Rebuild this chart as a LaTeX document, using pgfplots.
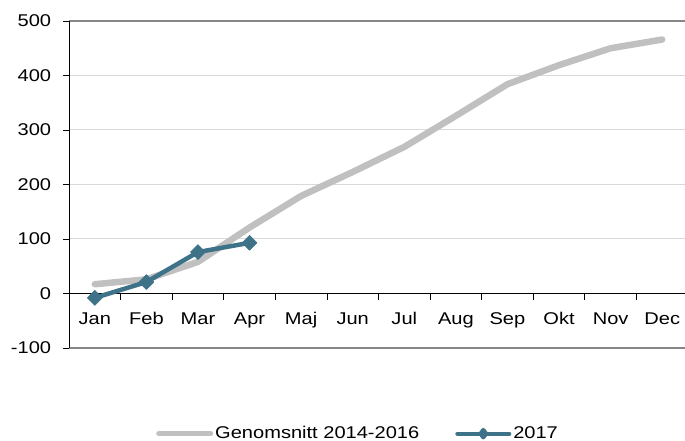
\documentclass[border=0pt]{standalone}
\usepackage{fontspec}
\setmainfont{Liberation Sans}[FakeStretch=1.18]
\usepackage{pgfplots}
\pgfplotsset{compat=1.18}
\definecolor{avg}{HTML}{C0C0C0}
\definecolor{cur}{HTML}{3D7288}
\definecolor{gridc}{HTML}{D9D9D9}
\definecolor{borderc}{HTML}{868686}
\begin{document}
\fontsize{17bp}{20bp}\selectfont
\begin{tikzpicture}[font=\fontsize{17bp}{20bp}\selectfont]
\begin{axis}[
  at={(0,0)}, anchor=south west,
  scale only axis, width=619bp, height=327bp,
  xmin=-0.5, xmax=11.5, ymin=-100, ymax=500,
  axis x line=middle, axis y line=left,
  axis line style={-, black},
  tick align=outside,
  major tick length=6bp,
  tick label style={font=\fontsize{17bp}{20bp}\selectfont},
  xtick={0.5,1.5,...,10.5},
  xticklabels={,,,,,,,,,,,},
  extra x ticks={0,1,2,3,4,5,6,7,8,9,10,11},
  extra x tick labels={Jan,Feb,Mar,Apr,Maj,Jun,Jul,Aug,Sep,Okt,Nov,Dec},
  extra x tick style={major tick length=0pt, xticklabel style={yshift=-13bp}},
  ytick={-100,0,100,200,300,400,500},
  yticklabels={-100,0,100,200,300,400,500},
  yticklabel style={xshift=-6bp},
  ymajorgrids, grid style={gridc, line width=1bp},
  tick style={black, line width=0.8bp},
  clip=false,
  legend columns=2,
  legend cell align=left,
  legend style={draw=none, fill=none, at={(0.467,-0.262)}, anchor=center,
    /tikz/every even column/.append style={column sep=34bp},
    font=\fontsize{17bp}{20bp}\selectfont},
]
\addplot[avg, line width=6.5bp, line cap=round, line join=round,
  legend image code/.code={\draw[avg, line width=5bp, line cap=round] (0bp,0bp) -- (52bp,0bp);}]
  coordinates {(0,17)(1,26)(2,58)(3,121)(4,179)(5,223)(6,269)(7,326)(8,384)(9,419)(10,450)(11,466)};
\addlegendentry{Genomsnitt 2014-2016}
\addplot[cur, line width=4.5bp, line join=round, mark=square*,
  mark options={rotate=45, line width=0.5bp, fill=cur, draw=cur, scale=1},
  mark size=5.3bp,
  legend image code/.code={\draw[cur, line width=4bp, line cap=round] (0bp,0bp) -- (52bp,0bp);
     \fill[cur] (26bp,-3.5bp) -- (28.5bp,0bp) -- (26bp,3.5bp) -- (23.5bp,0bp) -- cycle;}]
  coordinates {(0,-8)(1,21)(2,76)(3,93)};
\addlegendentry{2017}
\draw[borderc, line width=1.5bp] (rel axis cs:0,1) -- (rel axis cs:1,1);
\draw[borderc, line width=1.5bp] (rel axis cs:0,0) -- (rel axis cs:1,0);
\draw[black, line width=0.8bp] (rel axis cs:0,0) -- (rel axis cs:0,1);
\end{axis}
\pgfresetboundingbox
\useasboundingbox (-69bp,-93bp) rectangle (616bp,348bp);
\end{tikzpicture}
\end{document}
